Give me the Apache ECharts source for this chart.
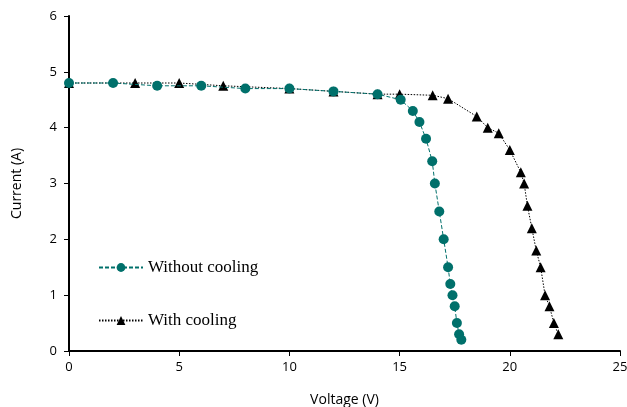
<!DOCTYPE html>
<html style="height: 100%">
<head>
<meta charset="utf-8">
<script src="https://cdn.jsdelivr.net/npm/echarts@6/dist/echarts.min.js"></script>
</head>
<body style="height: 100%; margin: 0; background: #fff">
<div id="container" style="width: 627px; height: 407px"></div>
<script>
// I-V curves
var noCoolV = [0, 2, 4, 6, 8, 10, 12, 14, 15.05, 15.6, 15.9, 16.2, 16.48, 16.6, 16.8, 17.0, 17.2, 17.3, 17.4, 17.5, 17.6, 17.7, 17.8];
var noCoolI = [4.8, 4.8, 4.75, 4.75, 4.7, 4.7, 4.65, 4.6, 4.5, 4.3, 4.1, 3.8, 3.4, 3.0, 2.5, 2.0, 1.5, 1.2, 1.0, 0.8, 0.5, 0.3, 0.2];
var coolV = [0, 3, 5, 7, 10, 12, 14, 15, 16.5, 17.2, 18.5, 19, 19.5, 20, 20.5, 20.65, 20.8, 21, 21.2, 21.4, 21.6, 21.8, 22, 22.2];
var coolI = [4.8, 4.8, 4.8, 4.75, 4.7, 4.65, 4.6, 4.6, 4.58, 4.52, 4.2, 4.0, 3.9, 3.6, 3.2, 3.0, 2.6, 2.2, 1.8, 1.5, 1.0, 0.8, 0.5, 0.3];

function pairs(xs, ys) {
    return xs.map(function (x, i) { return [x, ys[i]]; });
}

var teal = '#00706b';
var chart = echarts.init(document.getElementById('container'));
var option = {
    animation: false,
    grid: { left: 69, right: 7, top: 16, bottom: 56, outerBoundsMode: 'none' },
    legend: {
        left: 93,
        top: 254,
        orient: 'vertical',
        itemGap: 36,
        itemWidth: 44,
        itemHeight: 11,
        textStyle: { fontFamily: 'Liberation Serif', fontSize: 17, color: '#000' },
        data: ['Without cooling', 'With cooling']
    },
    xAxis: {
        type: 'value',
        min: 0, max: 25, interval: 5,
        name: 'Voltage (V)',
        nameLocation: 'middle',
        nameGap: 42,
        nameTextStyle: { fontFamily: 'Open Sans', fontSize: 14, color: '#000' },
        axisLine: { lineStyle: { color: '#000', width: 2 } },
        axisTick: { show: true, length: 5, lineStyle: { color: '#000' } },
        axisLabel: { fontFamily: 'Open Sans', fontSize: 13, color: '#000', margin: 10 },
        splitLine: { show: false }
    },
    yAxis: {
        type: 'value',
        min: 0, max: 6, interval: 1,
        name: 'Current (A)',
        nameLocation: 'middle',
        nameGap: 45,
        nameTextStyle: { fontFamily: 'Open Sans', fontSize: 14, color: '#000' },
        axisLine: { show: true, lineStyle: { color: '#000', width: 2 } },
        axisTick: { show: true, length: 5, lineStyle: { color: '#000' } },
        axisLabel: { fontFamily: 'Open Sans', fontSize: 13, color: '#000', margin: 12 },
        splitLine: { show: false }
    },
    series: [{
        name: 'Without cooling',
        type: 'line',
        data: pairs(noCoolV, noCoolI),
        symbol: 'circle',
        symbolSize: 10,
        itemStyle: { color: teal },
        lineStyle: { color: teal, width: 1, type: [4, 2] },
        z: 3
    }, {
        name: 'With cooling',
        type: 'line',
        data: pairs(coolV, coolI),
        symbol: 'triangle',
        symbolSize: 10,
        itemStyle: { color: '#000' },
        lineStyle: { color: '#000', width: 1, type: [1.5, 1.5] },
        z: 2
    }]
};
chart.setOption(option);
</script>
</body>
</html>
